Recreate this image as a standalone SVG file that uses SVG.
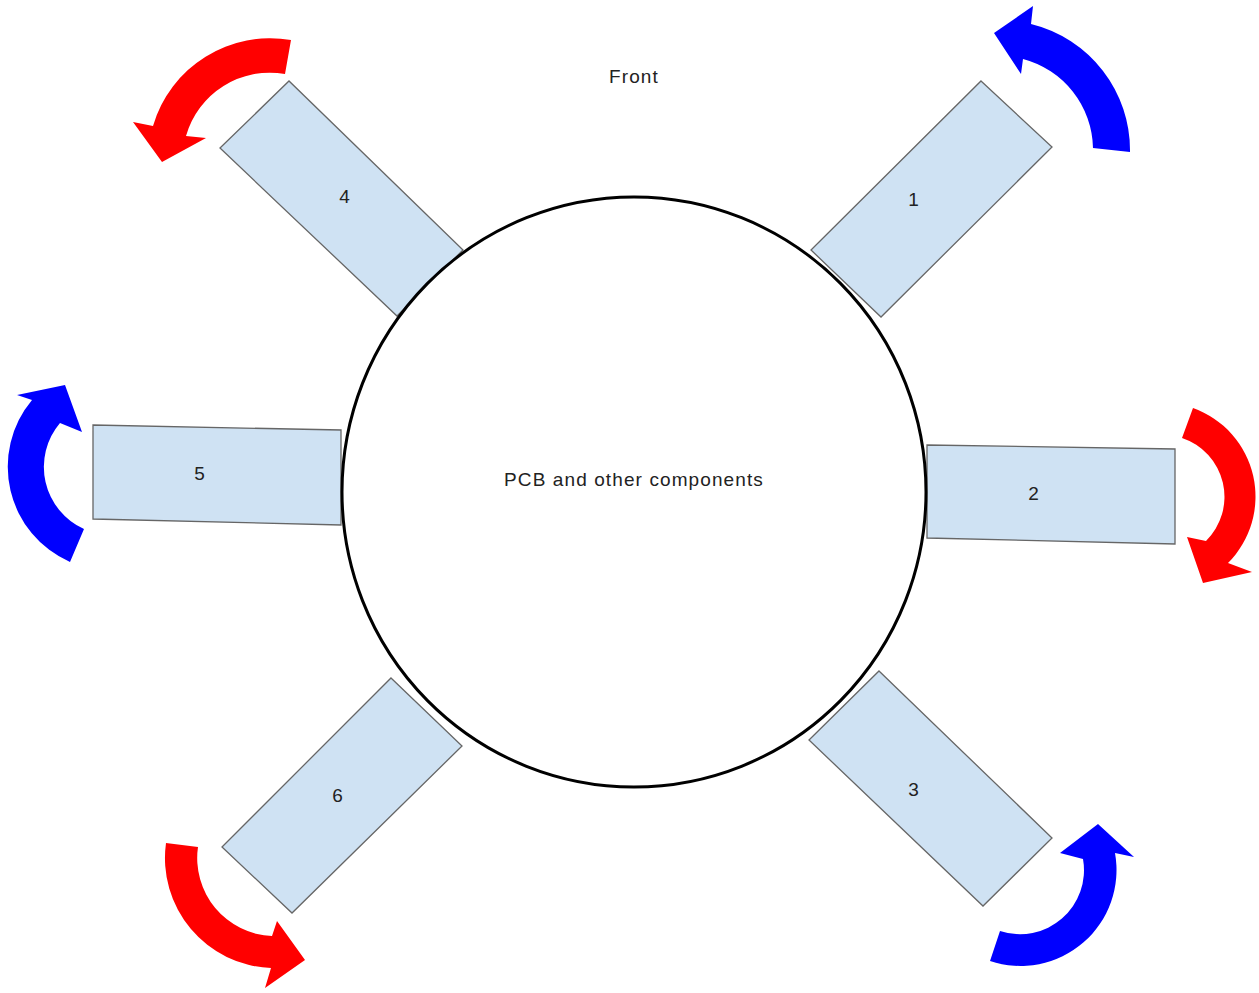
<svg xmlns="http://www.w3.org/2000/svg" width="1259" height="993" viewBox="0 0 1259 993">
<style>
.bg{fill:#ffffff}
.blade{fill:#cfe2f3;stroke:#666666;stroke-width:1.3;stroke-linejoin:miter}
.hub{fill:#ffffff;stroke:#000000;stroke-width:3}
.lbl{font-family:"Liberation Sans",Arial,sans-serif;font-size:19px;fill:#222222;text-anchor:middle;letter-spacing:1.1px}
.red{fill:#ff0000}
.blue{fill:#0000ff}
</style>
<rect class="bg" x="0" y="0" width="1259" height="993"/>
<g id="title"><text class="lbl" x="634" y="83">Front</text></g>
<g id="blade1"><polygon class="blade" points="981,81 1052,147 881,317 811,250"/><text class="lbl" x="914" y="206">1</text></g>
<g id="blade2"><polygon class="blade" points="927,445 1175,449 1175,544 927,538"/><text class="lbl" x="1034" y="500">2</text></g>
<g id="blade3"><polygon class="blade" points="879,671 1052,838 983,906 809,740"/><text class="lbl" x="914" y="796">3</text></g>
<g id="blade4"><polygon class="blade" points="220,148 289,81 463,250 397,316"/><text class="lbl" x="345" y="203">4</text></g>
<g id="blade5"><polygon class="blade" points="93,425 341,430 341,525 93,519"/><text class="lbl" x="200" y="480">5</text></g>
<g id="blade6"><polygon class="blade" points="391,678 462,746 292,913 222,847"/><text class="lbl" x="338" y="802">6</text></g>
<g id="hub"><ellipse class="hub" cx="634" cy="492" rx="292" ry="295"/><text class="lbl" x="634" y="486">PCB and other components</text></g>
<g id="arrows">
<path id="arrow1" class="blue" d="M994,33 L1033,6 L1031,24 A130,130 0 0 1 1130,152 L1093,148 A94,94 0 0 0 1023,59 L1021,74 Z"/>
<path id="arrow2" class="red" d="M1193,408 A94,94 0 0 1 1228,563 L1252,572 L1203,583 L1187,537 L1206,541 A62,62 0 0 0 1182,438 Z"/>
<path id="arrow3" class="blue" d="M990,961 A96,96 0 0 0 1115,853 L1134,857 L1098,824 L1060,853 L1083,859 A64,64 0 0 1 1000,931 Z"/>
<path id="arrow4" class="red" d="M291,40 A122,122 0 0 0 153,126 L133,122 L162,162 L206,138 L186,136 A87,87 0 0 1 285,74 Z"/>
<path id="arrow5" class="blue" d="M70,562 A104,104 0 0 1 32,400 L17,395 L65,385 L82,432 L60,423 A68,68 0 0 0 84,529 Z"/>
<path id="arrow6" class="red" d="M166,843 A110,110 0 0 0 271,968 L265,988 L305,960 L277,921 L272,936 A78,78 0 0 1 198,847 Z"/>
</g>
</svg>
